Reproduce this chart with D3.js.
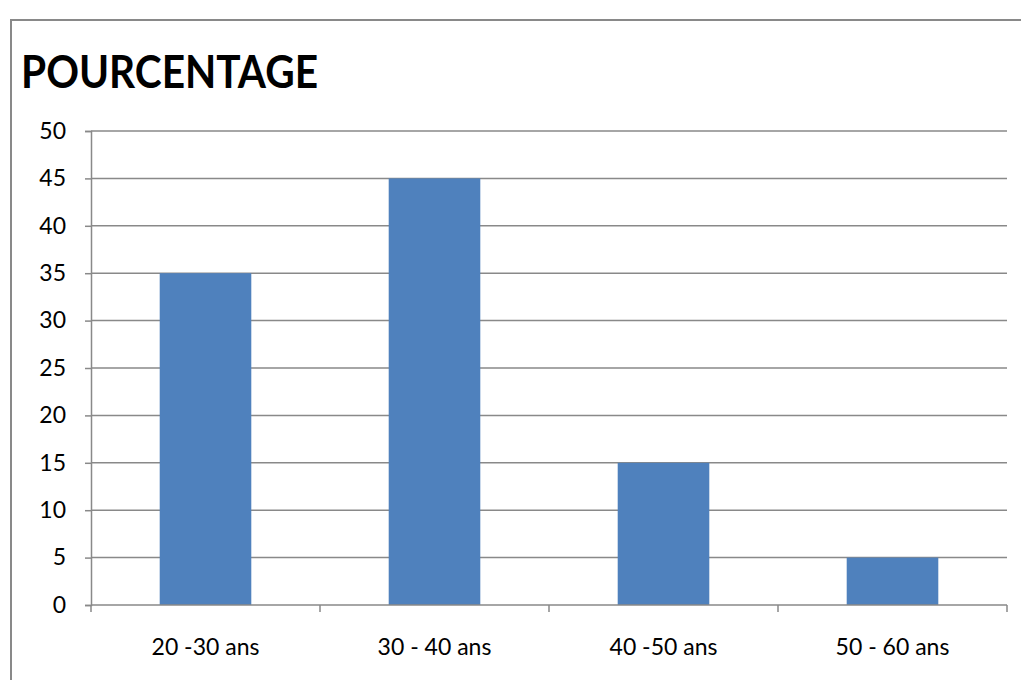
<!DOCTYPE html>
<html>
<head>
<meta charset="utf-8">
<script src="https://cdn.jsdelivr.net/npm/d3@7"></script>
<style>
  html, body { margin: 0; padding: 0; background: #fff; }
  svg { display: block; font-family: Lato, "Open Sans", sans-serif; }
</style>
</head>
<body>
<svg id="chart" width="1021" height="680"></svg>
<script>
const categories = ["20 -30 ans", "30 - 40 ans", "40 -50 ans", "50 - 60 ans"];
const values = [35, 45, 15, 5];
const yTicks = [0, 5, 10, 15, 20, 25, 30, 35, 40, 45, 50];
const title = "POURCENTAGE";

const svg = d3.select("#chart");
const plot = { left: 91, right: 1007, top: 131, bottom: 605 };
const axisColor = "#898989";
const labelSize = 23;

// chart frame
svg.append("rect")
  .attr("x", 11).attr("y", 20)
  .attr("width", 1040).attr("height", 700)
  .attr("fill", "none").attr("stroke", axisColor).attr("stroke-width", 2);

// title
svg.append("text")
  .attr("x", 21).attr("y", 88)
  .attr("font-weight", "bold")
  .attr("font-size", 45)
  .attr("textLength", 297)
  .attr("lengthAdjust", "spacingAndGlyphs")
  .attr("fill", "#000")
  .text(title);

const x = d3.scaleBand().domain(categories).range([plot.left, plot.right]).paddingInner(0.6).paddingOuter(0.3);
const xb = d3.scaleBand().domain(categories).range([plot.left, plot.right]);
const y = d3.scaleLinear().domain([0, 50]).range([plot.bottom, plot.top]);

// horizontal gridlines
svg.append("g").selectAll("line")
  .data(yTicks.filter(d => d > 0))
  .join("line")
  .attr("x1", plot.left).attr("x2", plot.right)
  .attr("y1", d => y(d)).attr("y2", d => y(d))
  .attr("stroke", axisColor).attr("stroke-width", 1.5);

// bars
svg.append("g").selectAll("rect")
  .data(values)
  .join("rect")
  .attr("x", (d, i) => x(categories[i]))
  .attr("width", x.bandwidth())
  .attr("y", d => y(d))
  .attr("height", d => y(0) - y(d))
  .attr("fill", "#4F81BD");

// y axis
const yAxis = svg.append("g")
  .attr("transform", `translate(${plot.left},0)`)
  .call(d3.axisLeft(y).tickValues(yTicks).tickSize(6).tickPadding(19));
yAxis.select(".domain").attr("stroke", axisColor).attr("stroke-width", 1.5);
yAxis.selectAll(".tick line").attr("stroke", axisColor).attr("stroke-width", 1.5);
yAxis.selectAll(".tick text").attr("font-size", labelSize).attr("fill", "#000")
  .attr("font-family", "Lato, 'Open Sans', sans-serif");

// x axis baseline and category boundary ticks
svg.append("line")
  .attr("x1", plot.left).attr("x2", plot.right)
  .attr("y1", y(0)).attr("y2", y(0))
  .attr("stroke", axisColor).attr("stroke-width", 1.5);
const bounds = categories.map(c => xb(c)).concat([plot.right]);
svg.append("g").selectAll("line")
  .data(bounds)
  .join("line")
  .attr("x1", d => d).attr("x2", d => d)
  .attr("y1", y(0)).attr("y2", y(0) + 7)
  .attr("stroke", axisColor).attr("stroke-width", 1.5);

// category labels
svg.append("g").selectAll("text")
  .data(categories)
  .join("text")
  .attr("x", d => xb(d) + xb.bandwidth() / 2)
  .attr("y", 655)
  .attr("text-anchor", "middle")
  .attr("font-size", labelSize)
  .attr("fill", "#000")
  .text(d => d);
</script>
</body>
</html>
